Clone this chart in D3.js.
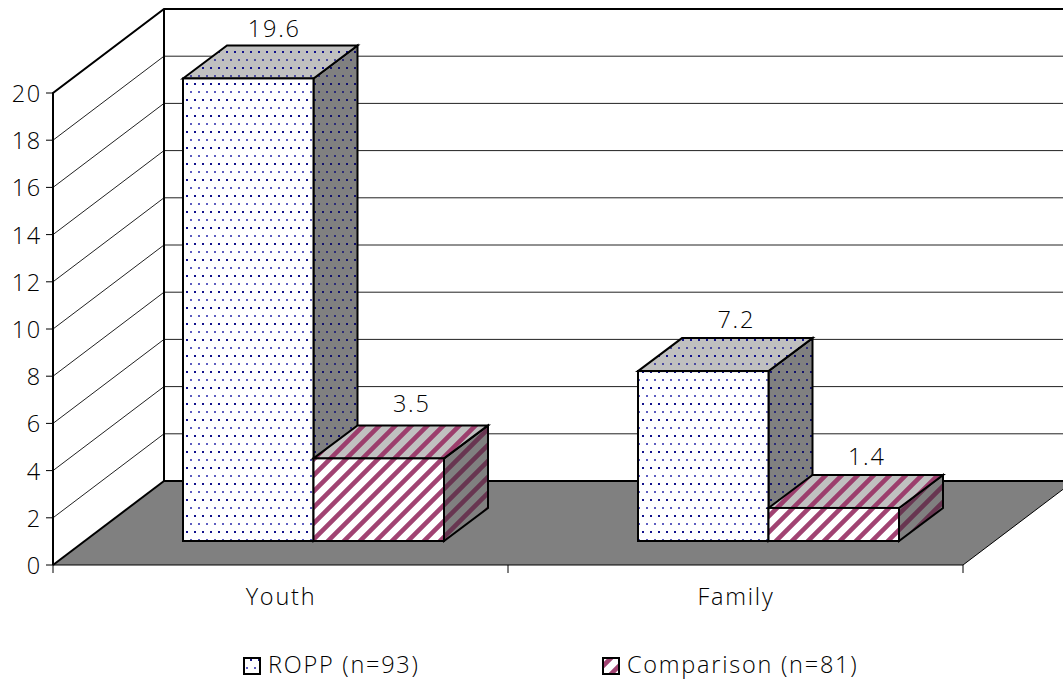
<!DOCTYPE html>
<html><head><meta charset="utf-8">
<script src="https://cdnjs.cloudflare.com/ajax/libs/d3/7.8.5/d3.min.js"></script>
<style>html,body{margin:0;padding:0;background:#fff}svg{display:block}text{font-family:"Open Sans",sans-serif;fill:#000;font-weight:300;letter-spacing:1.75px}</style>
</head><body><svg id="c" width="1063" height="679"></svg>
<script>
const categories = ["Youth", "Family"];
const seriesNames = ["ROPP (n=93)", "Comparison (n=81)"];
const roppValues = [19.6, 7.2];
const comparisonValues = [3.5, 1.4];
const yTicks = d3.range(0, 21, 2);

const svg = d3.select("#c");
const W = 1063;
const FS = 23.5;
const y = d3.scaleLinear().domain([0, 20]).range([565, 93]);
const x = d3.scaleBand().domain(categories).range([53, 963]);
const wall = {dx: 111, dy: -84};
const barDepth = {dx: 44, dy: -33};
const barBaseShift = -24;

const defs = svg.append("defs");
function dots(id, bg, c1, c2) {
  const p = defs.append("pattern").attr("id", id).attr("patternUnits", "userSpaceOnUse").attr("width", 8).attr("height", 16);
  p.append("rect").attr("width", 8).attr("height", 16).attr("fill", bg);
  p.append("rect").attr("x", 2).attr("y", 3).attr("width", 2).attr("height", 2).attr("fill", c1);
  p.append("rect").attr("x", 6).attr("y", 11).attr("width", 2).attr("height", 2).attr("fill", c2);
}
function stripes(id, bg, c) {
  const p = defs.append("pattern").attr("id", id).attr("patternUnits", "userSpaceOnUse").attr("width", 16).attr("height", 16)
    .attr("patternTransform", "translate(2,3)");
  p.append("rect").attr("width", 16).attr("height", 16).attr("fill", bg);
  p.append("path").attr("d", "M-4,4L4,-4M-4,20L20,-4M12,20L20,12").attr("stroke", c).attr("stroke-width", 4.6).attr("stroke-opacity", 0.92);
}
dots("d0", "#ffffff", "#12128c", "#5c5cc0");
dots("d1", "#c0c0c0", "#12128c", "#4a4aa0");
dots("d2", "#808080", "#12126c", "#2c2c78");
stripes("s0", "#ffffff", "#993366");
stripes("s1", "#c0c0c0", "#993366");
stripes("s2", "#808080", "#66304d");

const x0 = x.range()[0], x1 = x.range()[1];
svg.append("path").attr("d", `M${x0},${y(0)}L${x0+wall.dx},${y(0)+wall.dy}L${x1+wall.dx},${y(0)+wall.dy}L${x1},${y(0)}Z`).attr("fill", "#808080");

yTicks.forEach(t => {
  if (t > 0) {
    svg.append("line").attr("x1", x0 - 7).attr("x2", x0).attr("y1", y(t)).attr("y2", y(t)).attr("stroke", "#000").attr("stroke-width", 1);
    svg.append("path").attr("d", `M${x0},${y(t)}L${x0+wall.dx},${y(t)+wall.dy}L${W},${y(t)+wall.dy}`).attr("fill", "none").attr("stroke", "#222").attr("stroke-width", 1);
  }
  svg.append("text").attr("x", x0 - 11).attr("y", y(t) + 9).attr("text-anchor", "end").attr("font-size", FS).text(t);
});
const P = d => svg.append("path").attr("d", d).attr("stroke", "#000").attr("stroke-width", 2).attr("fill", "none");
P(`M${x0},${y(0)}L${x0},${y(20)}L${x0+wall.dx},${y(20)+wall.dy}L${W},${y(20)+wall.dy}`);
P(`M${x0+wall.dx},${y(20)+wall.dy}L${x0+wall.dx},${y(0)+wall.dy}L${W},${y(0)+wall.dy}`);
P(`M${x0},${y(0)}L${x0+wall.dx},${y(0)+wall.dy}`);
P(`M${x1},${y(0)}L${x1+wall.dx},${y(0)+wall.dy}`).attr("stroke-width", 1);
const axis = svg.append("g").attr("transform", `translate(0,${y(0)})`);
axis.append("line").attr("x1", x0 - 7).attr("x2", x1).attr("stroke", "#000");
[x0, x0 + x.bandwidth(), x1].forEach(v => axis.append("line").attr("x1", v).attr("x2", v).attr("y1", 0).attr("y2", 8).attr("stroke", "#000"));
categories.forEach(c => svg.append("text").attr("x", x(c) + x.bandwidth()/2 + 0.5).attr("y", 605).attr("text-anchor", "middle").attr("font-size", FS).text(c));

const barW = 130.5;
const maxValue = d3.max(roppValues);
function bar(cat, i, v) {
  const left = x(cat) + 130 + i * barW;
  const base = y(0) + barBaseShift;
  const top = base - (y(0) - y(v));
  const right = left + barW;
  const d = barDepth;
  const pre = i === 0 ? "d" : "s";
  const g = svg.append("g").attr("stroke", "#000").attr("stroke-width", 2).attr("stroke-linejoin", "miter");
  g.append("path").attr("d", `M${right},${top}L${right+d.dx},${top+d.dy}L${right+d.dx},${base+d.dy}L${right},${base}Z`).attr("fill", `url(#${pre}2)`);
  g.append("path").attr("d", `M${left},${top}L${left+d.dx},${top+d.dy}L${right+d.dx},${top+d.dy}L${right},${top}Z`).attr("fill", `url(#${pre}1)`);
  g.append("rect").attr("x", left).attr("y", top).attr("width", barW).attr("height", base - top).attr("fill", `url(#${pre}0)`);
  const shift = v === maxValue ? 26 : 33;
  const lift = v === maxValue ? 8 : (i === 1 && cat === categories[0] ? 13 : 10);
  svg.append("text").attr("x", (left + right) / 2 + shift).attr("y", top + d.dy - lift).attr("text-anchor", "middle").attr("font-size", FS).text(v);
}
categories.forEach((c, k) => {
  bar(c, 0, roppValues[k]);
  bar(c, 1, comparisonValues[k]);
});

const lx = [244, 603];
seriesNames.forEach((n, i) => {
  svg.append("rect").attr("x", lx[i]).attr("y", 658).attr("width", 16).attr("height", 16).attr("fill", `url(#${i ? "s0" : "d0"})`).attr("stroke", "#000").attr("stroke-width", 2);
  svg.append("text").attr("x", lx[i] + 24).attr("y", 673).attr("font-size", FS).text(n);
});
</script></body></html>
